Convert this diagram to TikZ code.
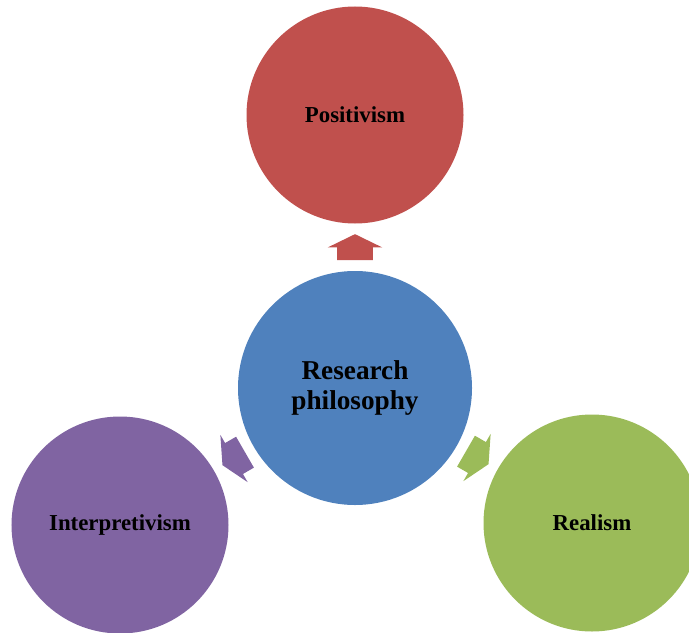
\documentclass[tikz,border=0pt]{standalone}
\usepackage{fontspec}
\setmainfont{Liberation Serif}
\usetikzlibrary{shapes.arrows,calc}
\definecolor{posred}{HTML}{C0504D}
\definecolor{hubblue}{HTML}{4F81BD}
\definecolor{intpurple}{HTML}{8064A2}
\definecolor{realgreen}{HTML}{9BBB59}
\begin{document}
\begin{tikzpicture}
	[bubble/.style={circle, minimum size=4.34cm, inner sep=0pt, font=\bfseries\fontsize{13}{15}\selectfont},
	 hub/.style={circle, minimum size=4.68cm, inner sep=0pt, align=center, font=\bfseries\fontsize{15.5}{17.5}\selectfont},
	 pointer/.style={single arrow, minimum height=0.52cm, inner xsep=0pt, inner ysep=0.35cm, single arrow head extend=0.19cm, single arrow tip angle=128}]
	\useasboundingbox (-7.1,-4.88) rectangle (6.68,7.76);
	\node[hub, fill=hubblue] (rp) at (0,0) {Research\\philosophy};
	\node[bubble, fill=posred] (pos) at (0,5.46) {Positivism};
	\node[bubble, fill=intpurple] (int) at (-4.7,-2.74) {Interpretivism};
	\node[bubble, fill=realgreen] (rea) at (4.74,-2.7) {Realism};
	\node[pointer, fill=posred, rotate=90] (a1) at ($(rp)!0.5!(pos)$) {};
	\node[pointer, fill=intpurple, rotate=210] (a2) at ($(rp)!0.5!(int)$) {};
	\node[pointer, fill=realgreen, rotate=-30] (a3) at ($(rp)!0.5!(rea)$) {};
\end{tikzpicture}
\end{document}
